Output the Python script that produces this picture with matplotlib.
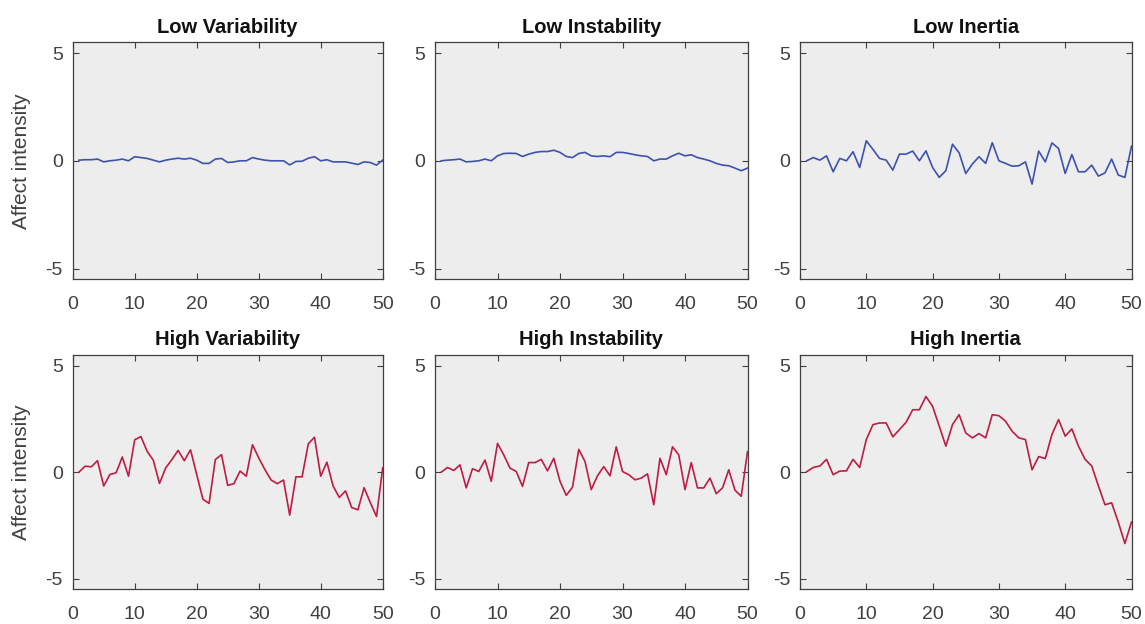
import numpy as np
import matplotlib
matplotlib.use('Agg')
import matplotlib.pyplot as plt

plt.rcParams['font.family'] = ['Liberation Sans', 'DejaVu Sans']
plt.rcParams['axes.unicode_minus'] = False

# time points
t = np.arange(1, 51)

# affect intensity series
low_variability = [0.03, 0.05, 0.05, 0.08, -0.05, 0.0, 0.03, 0.08, 0.0, 0.19,
                   0.15, 0.11, 0.03, -0.05, 0.03, 0.08, 0.12, 0.08, 0.12, 0.03,
                   -0.12, -0.12, 0.08, 0.11, -0.08, -0.05, 0.0, 0.0, 0.15, 0.08,
                   0.03, 0.0, 0.0, 0.0, -0.19, -0.03, -0.02, 0.12, 0.19, 0.0,
                   0.05, -0.05, -0.05, -0.05, -0.11, -0.17, -0.05, -0.08, -0.2, 0.03]
low_instability = [0.0, 0.03, 0.05, 0.08, -0.05, -0.03, 0.0, 0.08, 0.0, 0.23,
                   0.34, 0.35, 0.34, 0.2, 0.31, 0.39, 0.43, 0.43, 0.49, 0.39,
                   0.2, 0.15, 0.34, 0.39, 0.23, 0.2, 0.23, 0.19, 0.39, 0.39,
                   0.34, 0.28, 0.23, 0.2, 0.0, 0.08, 0.08, 0.23, 0.35, 0.23,
                   0.28, 0.15, 0.08, 0.0, -0.12, -0.2, -0.23, -0.34, -0.46, -0.34]
low_inertia = [0.0, 0.15, 0.03, 0.23, -0.51, 0.11, 0.0, 0.42, -0.31, 0.93,
               0.53, 0.11, 0.03, -0.43, 0.31, 0.31, 0.45, 0.0, 0.46, -0.31,
               -0.77, -0.46, 0.77, 0.37, -0.59, -0.15, 0.19, -0.12, 0.84, 0.0,
               -0.12, -0.25, -0.23, -0.05, -1.08, 0.45, -0.05, 0.83, 0.57, -0.59,
               0.29, -0.51, -0.51, -0.2, -0.71, -0.56, 0.08, -0.66, -0.77, 0.68]
high_variability = [0.0, 0.28, 0.25, 0.54, -0.65, -0.11, -0.03, 0.71, -0.19, 1.52,
                    1.67, 0.98, 0.56, -0.53, 0.2, 0.59, 1.02, 0.54, 1.05, -0.11,
                    -1.27, -1.47, 0.59, 0.82, -0.62, -0.54, 0.05, -0.19, 1.29, 0.67,
                    0.12, -0.37, -0.54, -0.37, -2.02, -0.22, -0.22, 1.33, 1.64, -0.19,
                    0.47, -0.65, -1.19, -0.88, -1.66, -1.77, -0.73, -1.43, -2.08, 0.2]
high_instability = [0.0, 0.22, 0.08, 0.34, -0.74, 0.16, 0.03, 0.57, -0.43, 1.35,
                    0.81, 0.19, 0.03, -0.67, 0.45, 0.45, 0.6, 0.06, 0.65, -0.43,
                    -1.09, -0.71, 1.07, 0.5, -0.82, -0.17, 0.26, -0.17, 1.19, 0.03,
                    -0.12, -0.36, -0.28, -0.08, -1.53, 0.65, -0.12, 1.19, 0.81, -0.82,
                    0.45, -0.74, -0.74, -0.28, -1.01, -0.74, 0.11, -0.85, -1.13, 0.96]
high_inertia = [0.02, 0.22, 0.29, 0.6, -0.12, 0.05, 0.06, 0.6, 0.22, 1.53,
                2.23, 2.31, 2.31, 1.66, 2.0, 2.34, 2.93, 2.93, 3.55, 3.09,
                2.16, 1.22, 2.23, 2.7, 1.84, 1.61, 1.81, 1.61, 2.7, 2.65,
                2.39, 1.92, 1.61, 1.53, 0.11, 0.73, 0.64, 1.77, 2.47, 1.69,
                2.03, 1.22, 0.6, 0.29, -0.64, -1.53, -1.44, -2.34, -3.35, -2.34]

titles = [['Low Variability', 'Low Instability', 'Low Inertia'],
          ['High Variability', 'High Instability', 'High Inertia']]
series = [[low_variability, low_instability, low_inertia],
          [high_variability, high_instability, high_inertia]]
colors = ['#3d52ad', '#bd1c44']

W, H = 1145, 624
lefts = [72.7, 435, 800]
rights = [382.7, 747.5, 1131.5]
tops = [42.3, 355]
bottoms = [279.3, 589.3]

fig = plt.figure(figsize=(W / 100, H / 100), dpi=100)
fig.patch.set_facecolor('white')

for r in range(2):
    for c in range(3):
        ax = fig.add_axes([lefts[c] / W, 1 - bottoms[r] / H,
                           (rights[c] - lefts[c]) / W, (bottoms[r] - tops[r]) / H])
        ax.set_facecolor('#ededed')
        ax.plot(t, series[r][c], color=colors[r], linewidth=1.2)
        ax.set_xlim(0, 50)
        ax.set_ylim(-5.5, 5.5)
        ax.set_xticks([0, 10, 20, 30, 40, 50])
        ax.set_yticks([-5, 0, 5])
        ax.tick_params(direction='in', length=4, width=0.8, top=True, right=True,
                       colors='#404040', labelsize=14)
        ax.tick_params(axis='x', pad=12)
        ax.tick_params(axis='y', pad=7)
        for s in ax.spines.values():
            s.set_color('#404040')
            s.set_linewidth(0.9)
        ax.set_title(titles[r][c], fontsize=14.5, fontweight='bold', color='#111111', pad=7)
        if c == 0:
            ax.set_ylabel('Affect intensity', fontsize=15, color='#404040')
            ax.yaxis.set_label_coords(-(lefts[0] - 31) / (rights[0] - lefts[0]), 0.5)

fig.savefig('out.png', dpi=100)
